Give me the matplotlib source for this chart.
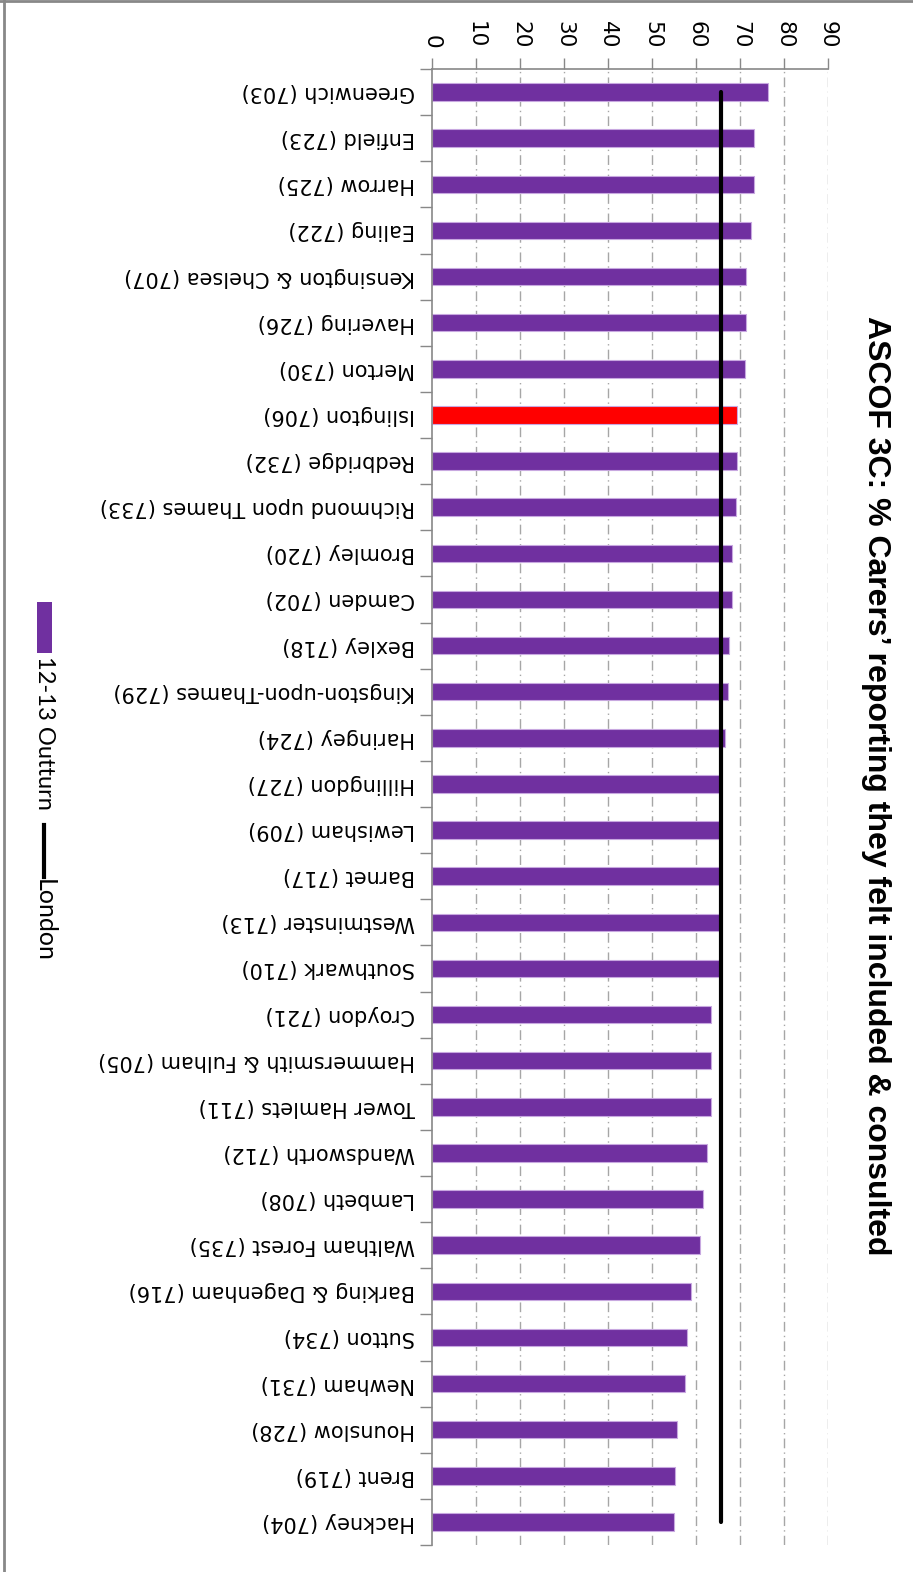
import matplotlib
matplotlib.use("Agg")
import matplotlib.pyplot as plt
from matplotlib.patches import Rectangle
from matplotlib.lines import Line2D

# data (chart is drawn turned on its side, as in the source image)
boroughs = [
    "Greenwich (703)", "Enfield (723)", "Harrow (725)", "Ealing (722)",
    "Kensington & Chelsea (707)", "Havering (726)", "Merton (730)",
    "Islington (706)", "Redbridge (732)", "Richmond upon Thames (733)",
    "Bromley (720)", "Camden (702)", "Bexley (718)",
    "Kingston-upon-Thames (729)", "Haringey (724)", "Hillingdon (727)",
    "Lewisham (709)", "Barnet (717)", "Westminster (713)", "Southwark (710)",
    "Croydon (721)", "Hammersmith & Fulham (705)", "Tower Hamlets (711)",
    "Wandsworth (712)", "Lambeth (708)", "Waltham Forest (735)",
    "Barking & Dagenham (716)", "Sutton (734)", "Newham (731)",
    "Hounslow (728)", "Brent (719)", "Hackney (704)",
]
outturn = [
    76.3, 73.1, 73.1, 72.4, 71.4, 71.4, 71.1, 69.3, 69.3, 69.0,
    68.1, 68.1, 67.5, 67.2, 66.6, 65.5, 65.5, 65.5, 65.5, 65.5,
    63.4, 63.4, 63.4, 62.5, 61.7, 61.0, 58.8, 57.9, 57.6, 55.6,
    55.3, 55.0,
]
london = [65.7] * len(boroughs)
highlight = "Islington (706)"
value_ticks = [0, 10, 20, 30, 40, 50, 60, 70, 80, 90]

purple = "#7030A0"
grey = "#888888"

W, H = 913, 1572
fig = plt.figure(figsize=(W / 100, H / 100), dpi=100)

# outer frame (top and left edges visible)
fig.add_artist(Line2D([0, 1], [1 - 1 / H, 1 - 1 / H], color=grey, lw=2.0))
fig.add_artist(Line2D([4 / W, 4 / W], [0, 1], color=grey, lw=2.0))

ax = fig.add_axes([432 / W, 1 - 1545 / H, (828 - 432) / W, (1545 - 69) / H])

pos = list(range(len(boroughs)))
colors = ["#FF0000" if b == highlight else purple for b in boroughs]
ax.barh(pos, outturn, height=0.38, color=colors, edgecolor="#c8a8e0",
        linewidth=0.8, zorder=2)
ax.plot(london, pos, color="black", lw=3.0, solid_capstyle="round", zorder=3)

ax.set_xlim(0, 90)
ax.set_ylim(len(boroughs) - 0.5, -0.5)

# value axis on top, labels read top to bottom
ax.xaxis.tick_top()
ax.set_xticks(value_ticks)
ax.set_xticklabels([str(v) for v in value_ticks], rotation=-90,
                   fontsize=15.5, ha="center", va="bottom")
ax.tick_params(axis="x", which="major", length=8, width=1, color=grey, pad=7)

# category axis, labels upside down
ax.set_yticks(pos)
ax.set_yticklabels(boroughs, rotation=180, fontsize=15, ha="right", va="center")
ax.set_yticks([p - 0.5 for p in pos] + [len(boroughs) - 0.5], minor=True)
ax.tick_params(axis="y", which="major", length=0, pad=12)
ax.tick_params(axis="y", which="minor", length=9, width=1, color=grey)

for v in value_ticks[1:]:
    ax.axvline(v, color="#a6a6a6", lw=1.0, linestyle=(0, (7, 3, 1, 3)), zorder=1)

for side in ["right", "bottom"]:
    ax.spines[side].set_visible(False)
for side in ["left", "top"]:
    ax.spines[side].set_color(grey)
    ax.spines[side].set_linewidth(1.2)

# title (rotated)
fig.text(876 / W, 1 - 786 / H,
         "ASCOF 3C: % Carers\u2019 reporting they felt included & consulted",
         rotation=-90, ha="center", va="center", fontsize=23,
         fontweight="bold", family="Liberation Sans")

# legend drawn by hand, rotated like the rest
fig.add_artist(Rectangle((37 / W, 1 - 653 / H), 15 / W, 51 / H,
                         facecolor=purple, edgecolor="none"))
fig.text(44 / W, 1 - 656 / H, "12-13 Outturn", rotation=-90, ha="center",
         va="top", fontsize=17, family="Lato")
fig.add_artist(Line2D([44 / W, 44 / W], [1 - 825 / H, 1 - 877 / H],
                      color="black", lw=3.0))
fig.text(44 / W, 1 - 879 / H, "London", rotation=-90, ha="center",
         va="top", fontsize=18, family="Lato")

fig.savefig("out.png", dpi=100)
